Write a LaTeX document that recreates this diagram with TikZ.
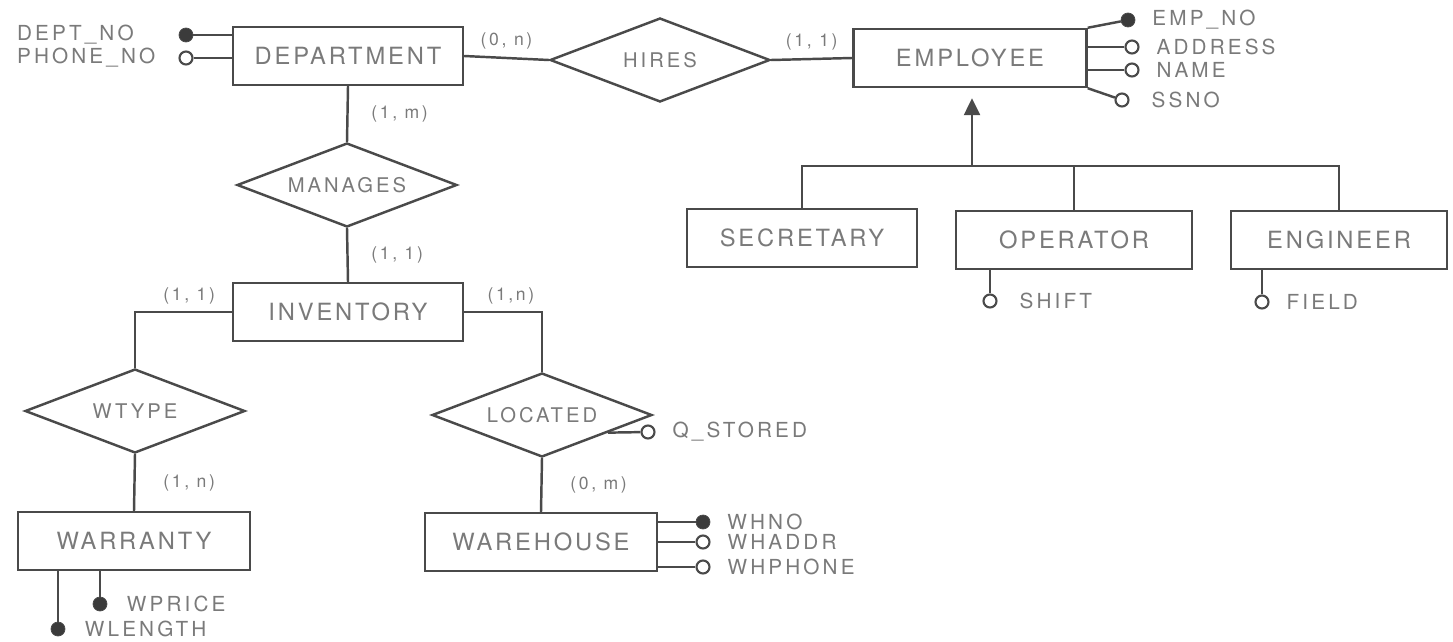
\documentclass[tikz,border=0pt]{standalone}
\usepackage{fontspec}
\setmainfont{TeX Gyre Heros}
\newfontfamily\erfont[LetterSpace=12]{TeX Gyre Heros}
\newfontfamily\attfont[LetterSpace=15]{TeX Gyre Heros}
\usetikzlibrary{positioning}
\usetikzlibrary{shapes.geometric}
\usetikzlibrary{arrows.meta}
\usetikzlibrary{calc}
\definecolor{ink}{HTML}{4A4A4A}
\definecolor{inktext}{HTML}{7A7A7A}
\tikzset{
  % An entity set: a plain box holding its name
  entity/.style={
    draw=ink, line width=1.4pt, rectangle, minimum width=#1,
    minimum height=11.6mm, inner sep=2pt, text=inktext,
    font=\erfont\fontsize{13.5}{15}\selectfont},
  entity/.default=46mm,
  % A relationship set
  relship/.style={
    draw=ink, line width=1.4pt, diamond, aspect=2.6, inner sep=0pt,
    minimum width=44mm, minimum height=16.8mm, text=inktext,
    font=\attfont\fontsize{11.5}{13}\selectfont},
  % Attribute markers: key (filled) and plain (open)
  keyatt/.style={circle, draw=ink, fill=ink!80!black, inner sep=0pt, minimum size=2.8mm},
  plainatt/.style={circle, draw=ink, fill=white, line width=1.2pt, inner sep=0pt, minimum size=2.6mm},
  atxt/.style={font=\attfont\fontsize{11.8}{13}\selectfont, text=inktext, inner sep=1pt},
  % Links and cardinalities
  link/.style={draw=ink, line width=1.4pt},
  isa/.style={-{Triangle[length=3.4mm, width=3.2mm]}, draw=ink, line width=1.4pt, shorten >=2mm},
  card/.style={font=\attfont\fontsize{10}{12}\selectfont, text=inktext, inner sep=1.5pt},
}

\begin{document}
\begin{tikzpicture}[x=0.02cm, y=-0.02cm]
\useasboundingbox (0,0) rectangle (1453,642);

% entities
\node[entity] (dept) at (348,56) {DEPARTMENT};
\node[entity=46.6mm] (emp) at (970,58) {EMPLOYEE};
\node[entity] (secr) at (802,238) {SECRETARY};
\node[entity=47.2mm] (oper) at (1074,240) {OPERATOR};
\node[entity=43.2mm] (engi) at (1339,240) {ENGINEER};
\node[entity] (inv) at (348,312) {INVENTORY};
\node[entity=46.4mm] (warr) at (134,541) {WARRANTY};
\node[entity=46.4mm] (wareh) at (541,542) {WAREHOUSE};

% relationships
\node[relship] (hires) at (660,60) {HIRES};
\node[relship] (manages) at (347,185) {MANAGES};
\node[relship] (wtype) at (135,411) {WTYPE};
\node[relship] (located) at (542,415) {LOCATED};

\draw[link] (dept.east) -- node[card, midway, above=3pt]{(0, n)} (hires.west);
\draw[link] (hires.east) -- node[card, midway, above=3pt]{(1, 1)} (emp.west);
\draw[link] (dept.south) -- node[card, midway, right=4mm]{(1, m)} (manages.north);
\draw[link] (manages.south) -- node[card, midway, right=4mm]{(1, 1)} (inv.north);
\draw[link] (inv.west) -| node[card, pos=0.22, above=2pt]{(1, 1)} (wtype.north);
\draw[link] (inv.east) -| node[card, pos=0.3, above=2pt]{(1,n)} (located.north);
\draw[link] (wtype.south) -- node[card, midway, right=5mm]{(1, n)} (warr.north);
\draw[link] (located.south) -- node[card, midway, right=5mm]{(0, m)} (wareh.north);

% generalisation of EMPLOYEE
\coordinate (isa) at (972,166);
\draw[isa] (isa) -- (isa |- emp.south);
\draw[link] (secr.north) |- (isa) -| (engi.north);
\draw[link] (oper.north) -- (oper.north |- isa);

% attributes of DEPARTMENT
\node[keyatt] (dno) at (186,35) {};
\node[plainatt] (dphone) at (186,58) {};
\node[atxt, anchor=west] (dnotxt) at (15,35) {DEPT\_NO};
\node[atxt, anchor=west] (dphonetxt) at (15,58) {PHONE\_NO};
\draw[link] (dno) -- (dno -| dept.west);
\draw[link] (dphone) -- (dphone -| dept.west);

% attributes of EMPLOYEE
\node[keyatt] (empno) at (1128,20) {};
\node[plainatt] (eaddr) at (1132,47) {};
\node[plainatt] (ename) at (1132,70) {};
\node[plainatt] (essno) at (1122,100) {};
\node[atxt, right=3mm of empno] (empnotxt) {EMP\_NO};
\node[atxt, right=3mm of eaddr] (eaddrtxt) {ADDRESS};
\node[atxt, right=3mm of ename] (enametxt) {NAME};
\node[atxt, right=4mm of essno] (essnotxt) {SSNO};
\draw[link] (emp.north east) -- (empno);
\draw[link] (eaddr) -- (eaddr -| emp.east);
\draw[link] (ename) -- (ename -| emp.east);
\draw[link] (emp.south east) -- (essno);

% attributes of the subtypes
\node[plainatt] (shift) at (990,301) {};
\node[plainatt] (field) at (1262,302) {};
\node[atxt, right=4mm of shift] (shifttxt) {SHIFT};
\node[atxt, right=3mm of field] (fieldtxt) {FIELD};
\draw[link] (shift) -- (shift |- oper.south);
\draw[link] (field) -- (field |- engi.south);

% attribute of LOCATED
\node[plainatt] (qst) at (648,432) {};
\node[atxt, right=3mm of qst] (qsttxt) {Q\_STORED};
\draw[link] (located.-15) -- (qst);

% attributes of WAREHOUSE
\node[keyatt] (whno) at (703,522) {};
\node[plainatt] (whaddr) at (703,542) {};
\node[plainatt] (whphone) at (703,567) {};
\node[atxt, right=3mm of whno] (whnotxt) {WHNO};
\node[atxt, right=3mm of whaddr] (whaddrtxt) {WHADDR};
\node[atxt, right=3mm of whphone] (whphonetxt) {WHPHONE};
\draw[link] (whno) -- (whno -| wareh.east);
\draw[link] (whaddr) -- (whaddr -| wareh.east);
\draw[link] (whphone) -- (whphone -| wareh.east);

% attributes of WARRANTY
\node[keyatt] (wprice) at (100,604) {};
\node[keyatt] (wlength) at (58,629) {};
\node[atxt, right=3.5mm of wprice] (wpricetxt) {WPRICE};
\node[atxt, right=3.5mm of wlength] (wlengthtxt) {WLENGTH};
\draw[link] (wprice) -- (wprice |- warr.south);
\draw[link] (wlength) -- (wlength |- warr.south);

\end{tikzpicture}
\end{document}
